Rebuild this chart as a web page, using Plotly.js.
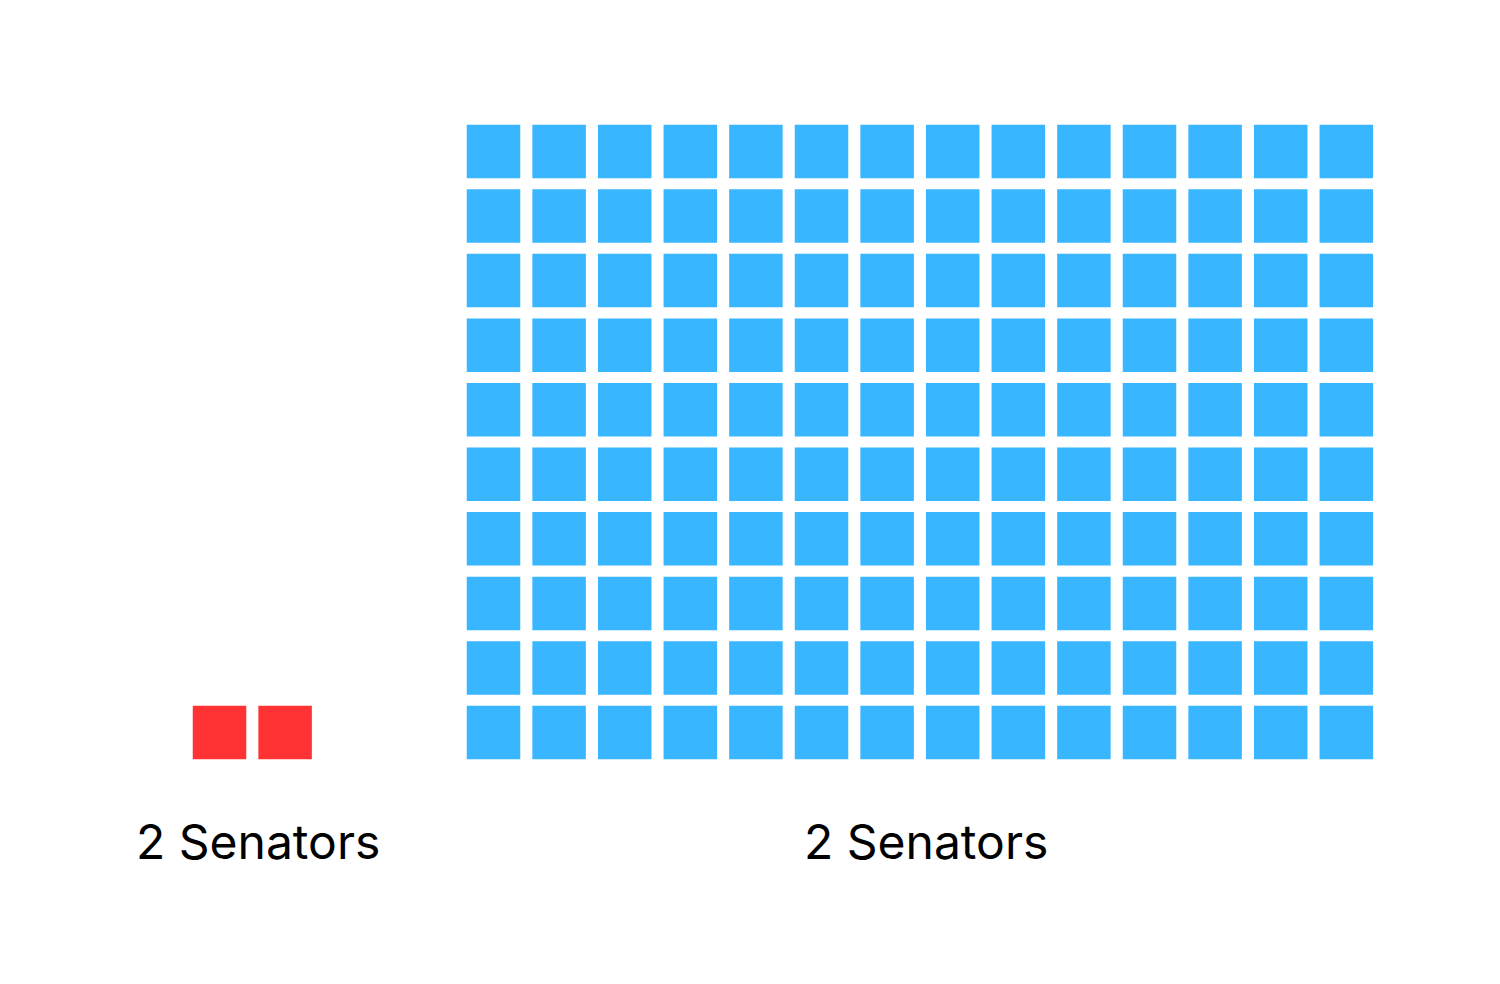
<!DOCTYPE html>
<html>
<head>
<meta charset="utf-8">
<script src="https://cdn.plot.ly/plotly-3.0.1.min.js"></script>
<style>html,body{margin:0;padding:0;background:#fff;}#chart{width:1500px;height:984px;}</style>
</head>
<body>
<div id="chart"></div>
<script>
// Data
const groups = ["Left", "Right"];
const groupLabels = ["2 Senators", "2 Senators"];
const squareCounts = [2, 140];
const groupColumns = [2, 14];
const groupColors = ["#FF3333", "#38B6FF"];

// Layout constants (grid units)
const groupOffsets = [0, 4.177];
const pitchX = 65.6, pitchY = 64.56;
const W = 1500, H = 984;

const traces = groups.map((g, gi) => {
  const xs = [], ys = [];
  for (let i = 0; i < squareCounts[gi]; i++) {
    const col = i % groupColumns[gi];
    const row = Math.floor(i / groupColumns[gi]);
    xs.push(groupOffsets[gi] + col);
    ys.push(row);
  }
  return {
    type: "scatter", mode: "markers", name: g, x: xs, y: ys,
    marker: {symbol: "square", size: 53.5, color: groupColors[gi], line: {width: 0}},
    hoverinfo: "skip", showlegend: false
  };
});

const x0 = -219.5 / pitchX;
const y0 = -(H - 732.5) / pitchY;

const annotations = groups.map((g, gi) => ({
  x: groupOffsets[gi] + (groupColumns[gi] - 1) / 2,
  y: -1.69, xref: "x", yref: "y",
  text: groupLabels[gi], showarrow: false, xanchor: "center", yanchor: "middle",
  xshift: 6,
  font: {family: "Inter, sans-serif", size: 48, color: "#000"}
}));

const layout = {
  width: W, height: H,
  margin: {l: 0, r: 0, t: 0, b: 0},
  paper_bgcolor: "#fff", plot_bgcolor: "#fff",
  xaxis: {range: [x0, x0 + W / pitchX], visible: false, fixedrange: true},
  yaxis: {range: [y0, y0 + H / pitchY], visible: false, fixedrange: true},
  annotations: annotations
};

Plotly.newPlot("chart", traces, layout, {displayModeBar: false, staticPlot: true});
</script>
</body>
</html>
